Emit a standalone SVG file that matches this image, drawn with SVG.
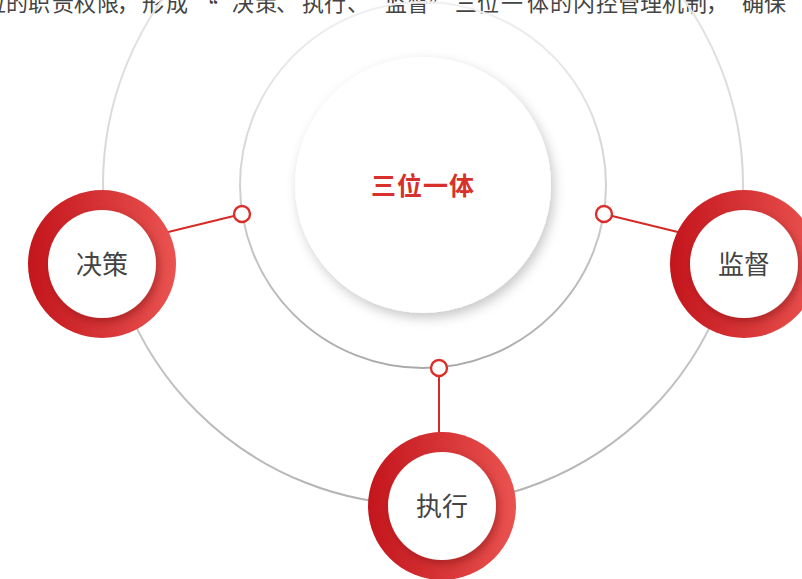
<svg xmlns="http://www.w3.org/2000/svg" width="802" height="579" viewBox="0 0 802 579">
<style>
.top{font-family:"Noto Sans CJK SC","Noto Sans",sans-serif;font-size:22px;fill:#444}
.lbl{font-family:"Noto Sans CJK SC","Noto Sans",sans-serif;font-size:26px;fill:#444;text-anchor:middle}
.ctr{font-family:"Noto Sans CJK SC","Noto Sans",sans-serif;font-size:25px;font-weight:700;fill:#d8302b;text-anchor:middle;letter-spacing:1px}
.ring{fill:url(#redg)}
.inner{fill:#fff;filter:url(#ish)}
.link{stroke:#d42b27;stroke-width:2;fill:none}
.dot{fill:#fff;stroke:#d9302c;stroke-width:2.4}
</style>
<defs>
<linearGradient id="redg" x1="0" y1="0" x2="1" y2="0">
<stop offset="0" stop-color="#c3151c"/>
<stop offset="1" stop-color="#ea5350"/>
</linearGradient>
<linearGradient id="outerg" gradientUnits="userSpaceOnUse" x1="0" y1="-135" x2="0" y2="505">
<stop offset="0" stop-color="#eeeeee"/>
<stop offset="0.5" stop-color="#d6d6d6"/>
<stop offset="1" stop-color="#b3b3b3"/>
</linearGradient>
<linearGradient id="innerg" gradientUnits="userSpaceOnUse" x1="0" y1="2" x2="0" y2="368">
<stop offset="0" stop-color="#f0f0f0"/>
<stop offset="0.5" stop-color="#d2d2d2"/>
<stop offset="1" stop-color="#a9a9a9"/>
</linearGradient>
<filter id="csh" x="-30%" y="-30%" width="160%" height="160%">
<feDropShadow dx="3" dy="5" stdDeviation="6" flood-color="#000" flood-opacity="0.22"/>
</filter>
<filter id="ish" x="-30%" y="-30%" width="160%" height="160%">
<feDropShadow dx="3" dy="4" stdDeviation="4" flood-color="#5a0000" flood-opacity="0.35"/>
</filter>
</defs>
<rect width="802" height="579" fill="#fff"/>
<g id="caption">
<text class="top"><tspan y="11" x="-16 6 28 52 74 97 117 142 166">位的职责权限，形成</tspan><tspan y="16" x="196">“</tspan><tspan y="11" x="232 255 276 302 324 347 385 407">决策、执行、监督</tspan><tspan y="16" x="428">”</tspan><tspan y="11" x="455 477 501 527 550 573 596 618 640 662 685 706 742 764">三位一体的内控管理机制，确保</tspan></text>
</g>
<g id="rings">
<circle cx="423" cy="185" r="320" fill="none" stroke="url(#outerg)" stroke-width="2"/>
<circle cx="423" cy="185" r="183" fill="none" stroke="url(#innerg)" stroke-width="2"/>
</g>
<g id="connectors">
<line class="link" x1="242" y1="214" x2="160" y2="234"/>
<line class="link" x1="604" y1="214" x2="686" y2="234"/>
<line class="link" x1="439" y1="368" x2="439" y2="440"/>
<circle class="dot" cx="242" cy="214" r="8"/>
<circle class="dot" cx="604" cy="214" r="8"/>
<circle class="dot" cx="439" cy="368" r="8"/>
</g>
<g id="center">
<circle cx="423" cy="185" r="128" fill="#fff" filter="url(#csh)"/>
<text class="ctr" x="423" y="195">三位一体</text>
</g>
<g id="decision">
<circle class="ring" cx="102" cy="264" r="74"/>
<circle class="inner" cx="102" cy="264" r="54"/>
<text class="lbl" x="102" y="274">决策</text>
</g>
<g id="supervision">
<circle class="ring" cx="744" cy="264" r="74"/>
<circle class="inner" cx="744" cy="264" r="54"/>
<text class="lbl" x="744" y="274">监督</text>
</g>
<g id="execution">
<circle class="ring" cx="442" cy="506" r="74"/>
<circle class="inner" cx="442" cy="506" r="54"/>
<text class="lbl" x="442" y="516">执行</text>
</g>
</svg>
